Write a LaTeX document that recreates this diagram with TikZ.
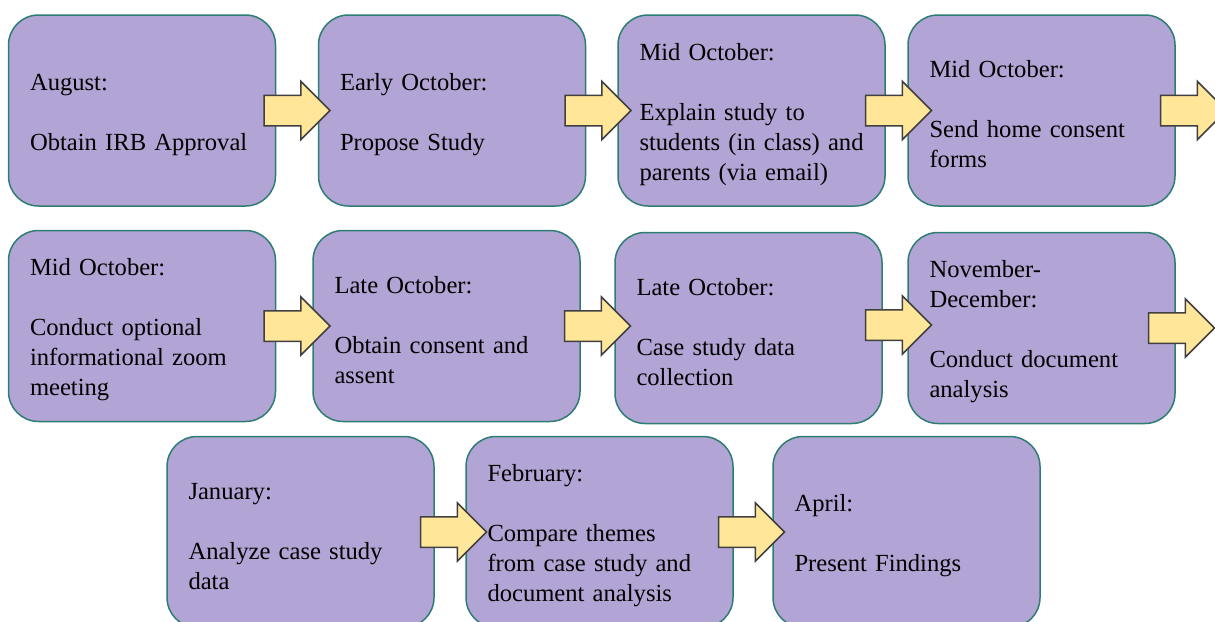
\documentclass[tikz,border=0pt]{standalone}
\usepackage{fontspec}
\setmainfont{Liberation Serif}
\usetikzlibrary{shapes.arrows,calc}
\definecolor{boxfill}{HTML}{B2A4D4}
\definecolor{boxline}{HTML}{2E7D74}
\definecolor{arrowfill}{HTML}{FFE699}
\definecolor{arrowline}{HTML}{404040}
\begin{document}
\begin{tikzpicture}[x=0.5pt,y=-0.5pt,
		stage/.style={draw=boxline,line width=0.75pt,fill=boxfill,rounded corners=15pt,
			minimum width=133.5pt,minimum height=95.5pt,text width=112pt,inner xsep=10.75pt,
			align=left,font=\fontsize{12.3}{15}\selectfont,execute at begin node={\rule{0pt}{12.5pt}}},
		goes/.style={single arrow,draw=arrowline,line width=0.75pt,fill=arrowfill,anchor=tail,
			minimum height=33pt,single arrow head extend=7pt,inner xsep=0pt,inner ysep=7.25pt}]
		\useasboundingbox (0,0) rectangle (1215,621);

		% first row
		\node[stage] (b1) at (142,110.5) {August:\\[15pt]Obtain IRB Approval};
		\node[stage] (b2) at (452,110.5) {Early October:\\[15pt]Propose Study};
		\node[stage] (b3) at (751.5,110.5) {Mid October:\\[15pt]Explain study to\\students~(in~class)~and\\parents (via email)};
		\node[stage] (b4) at (1041.5,110.5) {Mid October:\\[15pt]Send home consent\\forms};

		% second row
		\node[stage] (b5) at (142,326) {Mid October:\\[15pt]Conduct optional\\informational zoom\\meeting};
		\node[stage] (b6) at (446.5,326) {Late October:\\[15pt]Obtain consent and\\assent};
		\node[stage] (b7) at (748.5,328) {Late October:\\[15pt]Case study data\\collection};
		\node[stage] (b8) at (1041.5,328) {November-\\December:\\[15pt]Conduct document\\analysis};

		% third row
		\node[stage] (b9) at (300.5,532) {January:\\[15pt]Analyze case study\\data};
		\node[stage] (b10) at (599.5,532) {February:\\[15pt]Compare themes\\from case study and\\document analysis};
		\node[stage] (b11) at (906.5,532) {April:\\[15pt]Present Findings};

		% arrows, tail tucked under the box edge
		\node[goes] (a1) at ([xshift=-6.5pt]b1.east) {};
		\node[goes] (a2) at ([xshift=-11pt]b2.east) {};
		\node[goes] (a3) at ([xshift=-10.5pt]b3.east) {};
		\node[goes] (a4) at ([xshift=-8pt]b4.east) {};
		\node[goes] (a5) at ([xshift=-6.5pt]b5.east) {};
		\node[goes] (a6) at ([xshift=-8.5pt]b6.east) {};
		\node[goes] (a7) at ([xshift=-9pt,yshift=1.5pt]b7.east) {};
		\node[goes] (a8) at ([xshift=-14pt]b8.east) {};
		\node[goes] (a9) at ([xshift=-7.5pt]b9.east) {};
		\node[goes] (a10) at ([xshift=-8pt]b10.east) {};
	\end{tikzpicture}
\end{document}
